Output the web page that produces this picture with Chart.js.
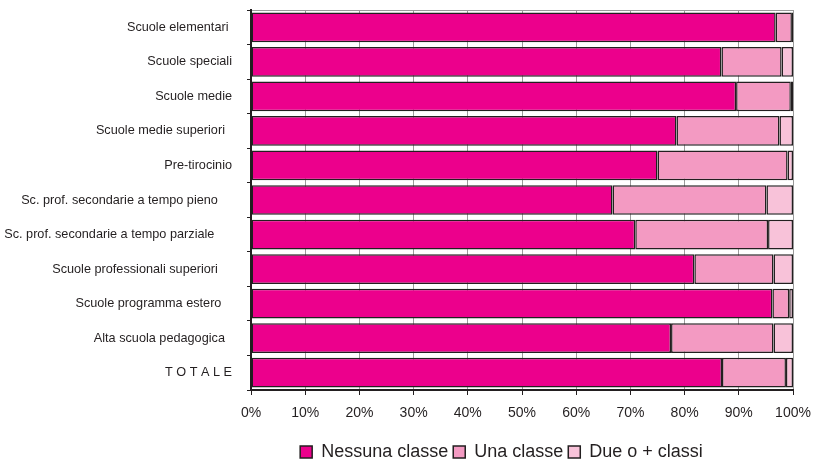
<!DOCTYPE html>
<html>
<head>
<meta charset="utf-8">
<script src="https://cdn.jsdelivr.net/npm/chart.js@4.4.1/dist/chart.umd.min.js"></script>
<style>
  html, body { margin: 0; padding: 0; background: #ffffff; }
  #wrap { width: 815px; height: 462px; position: relative; }
</style>
</head>
<body>
<div id="wrap"><canvas id="c" width="815" height="462"></canvas></div>
<script>
const categories = [
  "Scuole elementari ",
  "Scuole speciali",
  "Scuole medie",
  "Scuole medie superiori  ",
  "Pre-tirocinio",
  "Sc. prof. secondarie a tempo pieno    ",
  "Sc. prof. secondarie a tempo parziale     ",
  "Scuole professionali superiori    ",
  "Scuole programma estero   ",
  "Alta scuola pedagogica  ",
  "T O T A L E"
];
const seriesNames = ["Nessuna classe", "Una classe", "Due o + classi"];
const nessuna = [96.8, 86.8, 89.5, 78.5, 75.0, 66.7, 70.9, 81.8, 96.2, 77.5, 86.9];
const una     = [3.0, 11.1, 10.1, 19.0, 24.0, 28.4, 24.5, 14.6, 3.1, 18.9, 11.8];
const due     = [0.2, 2.1, 0.4, 2.5, 1.0, 4.9, 4.6, 3.6, 0.7, 3.6, 1.3];
const xTicks = [0, 10, 20, 30, 40, 50, 60, 70, 80, 90, 100];

const colors = ["#EC008C", "#F39AC2", "#F8C2D9"];
const edge = "#231F20";
const FONT = "'Liberation Sans', Arial, sans-serif";

const datasets = [nessuna, una, due].map((d, i) => ({
  label: seriesNames[i],
  data: d,
  backgroundColor: colors[i],
  borderColor: edge,
  borderWidth: 1.5,
  borderSkipped: false,
  barPercentage: 0.86,
  categoryPercentage: 1.0
}));

// place the legend row where the reference has it
const legendPlace = {
  id: 'legendPlace',
  afterLayout(chart) {
    const L = chart.legend;
    if (!L) return;
    const dx = 501.5 - (L.left + L.right) / 2;
    const dy = 452 - (L.top + L.options.labels.padding + 9);
    L.left += dx; L.right += dx;
    L.top += dy; L.bottom += dy;
  }
};

new Chart(document.getElementById('c'), {
  type: 'bar',
  data: { labels: categories, datasets },
  plugins: [legendPlace],
  options: {
    indexAxis: 'y',
    responsive: false,
    animation: false,
    devicePixelRatio: 1,
    layout: { padding: { left: 0, right: 22, top: 10, bottom: 0 } },
    scales: {
      x: {
        stacked: true,
        min: 0, max: 100,
        afterBuildTicks: (s) => { s.ticks = xTicks.map(v => ({ value: v })); },
        afterFit: (s) => { s.height = 39; s.paddingLeft = 0; s.paddingRight = 0; },
        ticks: {
          callback: (v) => v + '%',
          color: '#231F20',
          font: { family: FONT, size: 14 },
          padding: 10,
          maxRotation: 0
        },
        grid: {
          color: '#9a9a9a',
          lineWidth: 1,
          tickLength: 5,
          tickColor: '#231F20'
        },
        border: { color: '#231F20', width: 2 }
      },
      y: {
        stacked: true,
        afterFit: (s) => { s.width = 251; s.paddingTop = 0; s.paddingBottom = 0; },
        ticks: {
          color: '#231F20',
          font: { family: FONT, size: 12.7 },
          padding: 15,
          autoSkip: false
        },
        grid: {
          offset: true,
          drawOnChartArea: true,
          color: (ctx) => ctx.index === 0 ? '#9a9a9a' : 'rgba(0,0,0,0)',
          tickLength: 4,
          tickColor: '#231F20'
        },
        border: { color: '#231F20', width: 2 }
      }
    },
    plugins: {
      legend: {
        position: 'bottom',
        labels: {
          boxWidth: 12,
          boxHeight: 12,
          padding: 5,
          color: '#231F20',
          font: { family: FONT, size: 18 }
        }
      },
      tooltip: { enabled: false }
    }
  }
});
</script>
</body>
</html>
